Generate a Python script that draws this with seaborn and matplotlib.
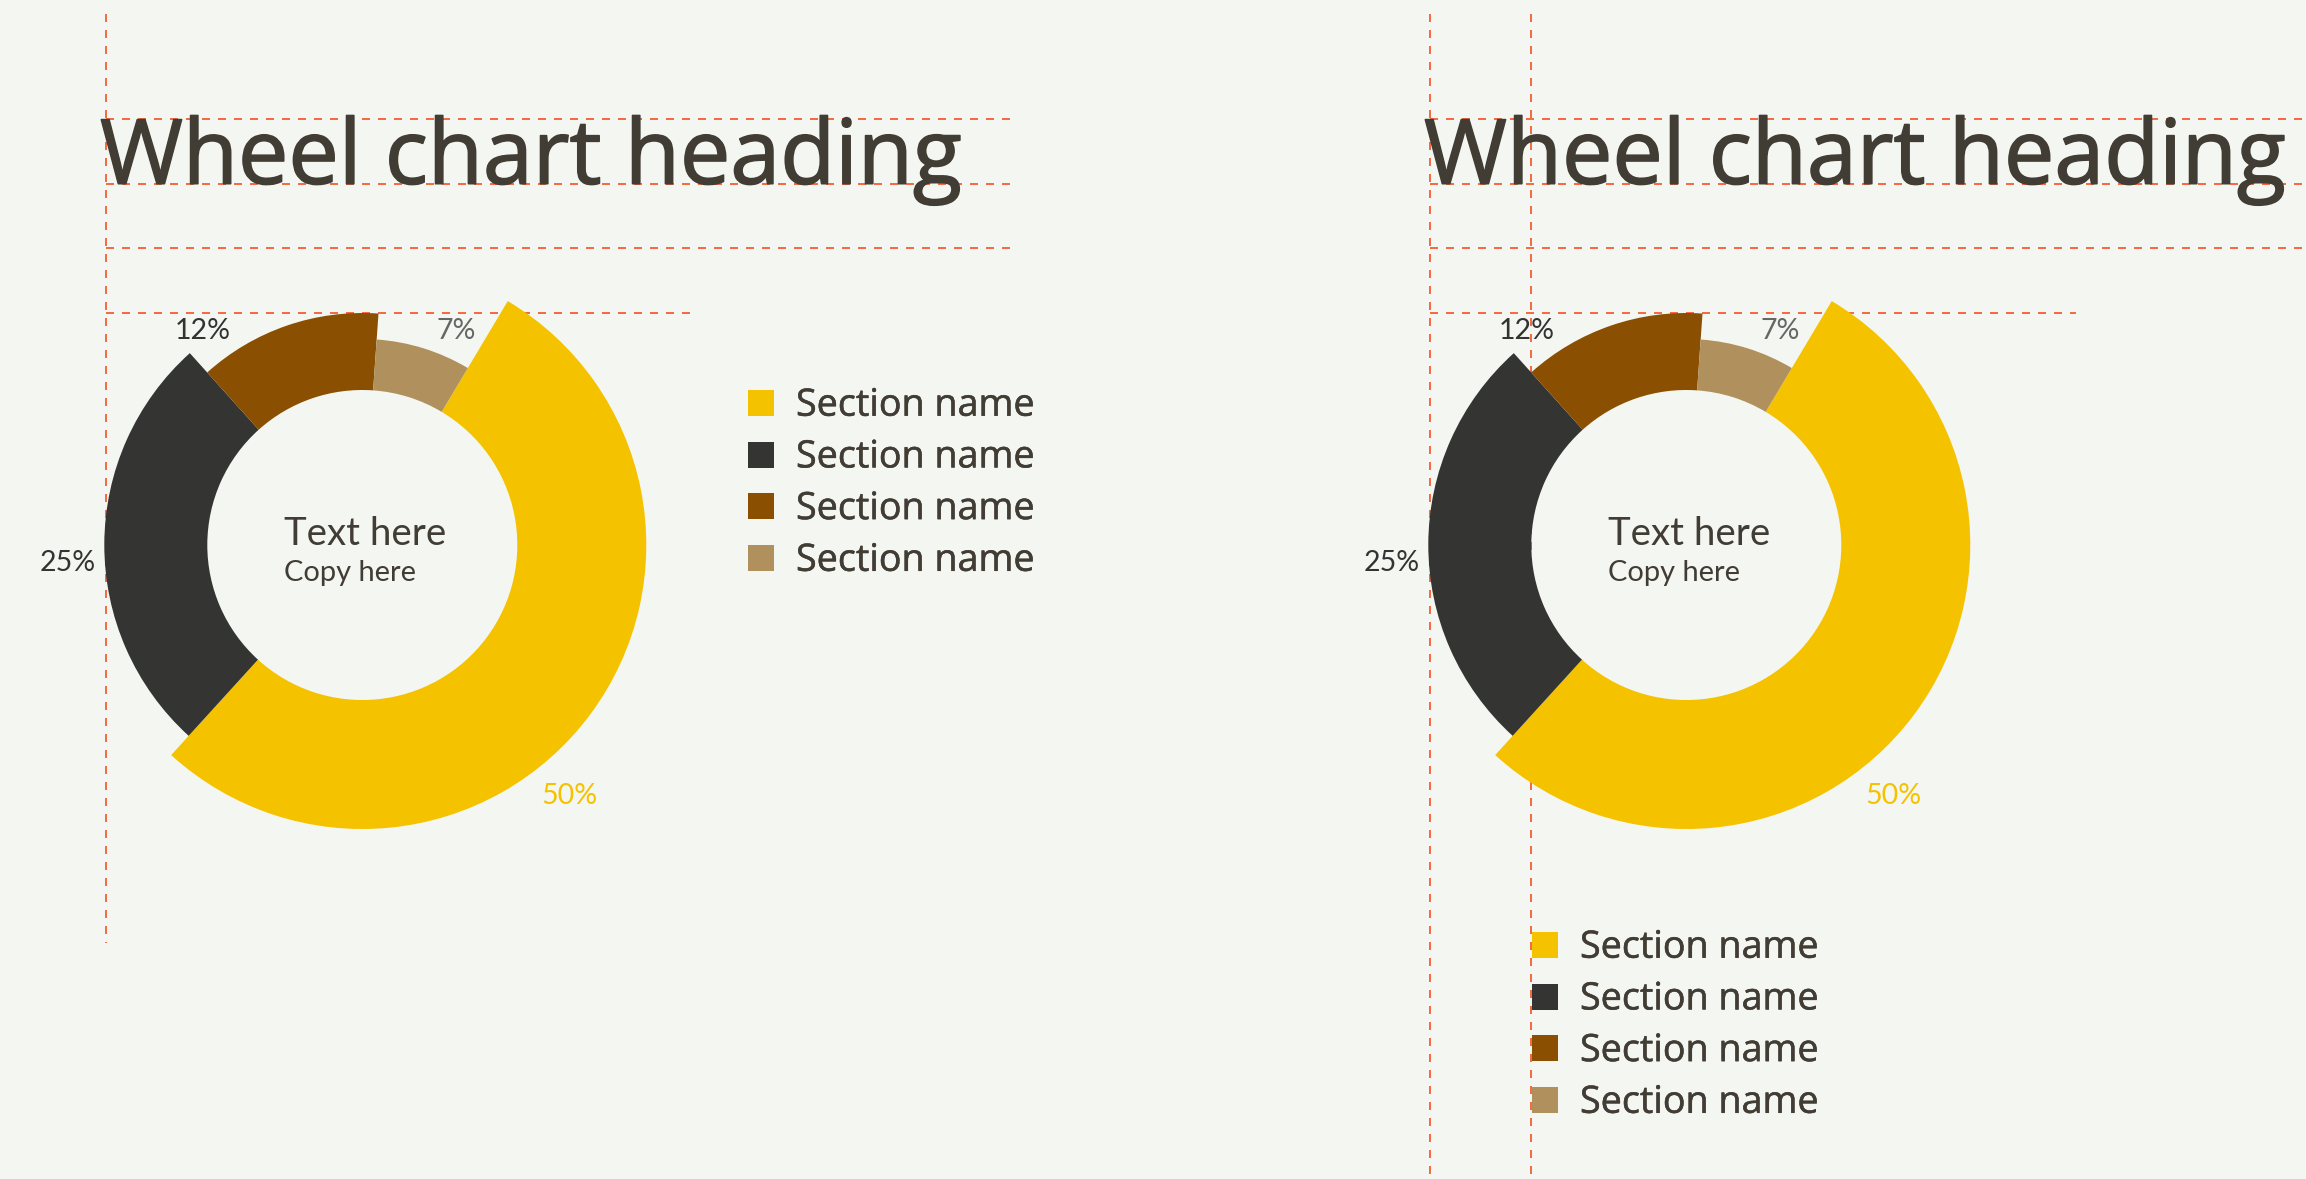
import numpy as np
import matplotlib
matplotlib.use("Agg")
import matplotlib.pyplot as plt
import matplotlib.patheffects as pe
from matplotlib.patches import Rectangle
import seaborn as sns

# ---------------- data ----------------
section_names = ["Section name", "Section name", "Section name", "Section name"]
section_values = [50, 25, 12, 7]
value_labels = [f"{v}%" for v in section_values]
heading_text = "Wheel chart heading"
center_title = "Text here"
center_copy = "Copy here"

# ---------------- style ----------------
W, H = 2306, 1179
BG = "#F4F6F1"
INK = "#413C34"
GUIDE = "#F2653B"
section_colors = ["#F5C200", "#343432", "#8A4F00", "#B0905C"]
label_colors = ["#F5C200", "#333333", "#333333", "#666666"]
outer_radii = [284, 258, 232, 206]   # px, largest section gets the widest ring
inner_radius = 155                   # px
top_seam = np.deg2rad(4.0)           # where the last section begins, clockwise from 12 o'clock
# label anchor offsets from the wheel centre (px)
label_offsets = [(206.7, 249.0), (-295.0, 16.0), (-159.6, -216.0), (93.7, -216.0)]

HEAD_FONT = ["Open Sans", "DejaVu Sans"]
BODY_FONT = ["Lato", "DejaVu Sans"]

sns.set_theme(style="white", rc={
    "figure.facecolor": BG,
    "axes.facecolor": BG,
    "savefig.facecolor": BG,
    "lines.scale_dashes": False,
})
plt.rcParams["font.family"] = BODY_FONT


def pt(px):
    """pixel size -> points at 100 dpi"""
    return px * 0.72


def heavier(px):
    """slightly embolden text with an outline of the same colour"""
    return [pe.withStroke(linewidth=pt(px), foreground=INK)]


fig = plt.figure(figsize=(W / 100, H / 100), dpi=100)
canvas = fig.add_axes([0, 0, 1, 1])
canvas.set_xlim(0, W)
canvas.set_ylim(H, 0)
canvas.axis("off")


def guide(x0, y0, x1, y1):
    canvas.plot([x0, x1], [y0, y1], color=GUIDE, lw=pt(1.9),
                dashes=(pt(8), pt(8)), zorder=1, solid_capstyle="butt",
                dash_capstyle="butt")


def draw_wheel(cx, cy):
    R = max(outer_radii) + 90
    ax = fig.add_axes([(cx - R) / W, 1 - (cy + R) / H, 2 * R / W, 2 * R / H],
                      projection="polar")
    ax.set_theta_zero_location("N")
    ax.set_theta_direction(-1)
    ax.set_ylim(0, R)
    ax.axis("off")
    ax.patch.set_alpha(0)

    vals = np.array(section_values, dtype=float)
    spans = vals / vals.sum() * 2 * np.pi
    # the last section sits just after twelve o'clock, the first follows it
    first = top_seam + spans[-1]
    starts = first + np.concatenate([[0.0], np.cumsum(spans[:-1])])
    ax.bar(starts, np.array(outer_radii) - inner_radius, width=spans,
           bottom=inner_radius, align="edge", color=section_colors,
           linewidth=0, zorder=3)

    for (ox, oy), lab, col in zip(label_offsets, value_labels, label_colors):
        canvas.text(cx + ox, cy + oy + 10, lab, ha="center", va="baseline",
                    fontsize=pt(28.5), color=col, zorder=5)

    canvas.text(cx - 78, cy - 0.2, center_title, ha="left", va="baseline",
                fontsize=pt(38.4), color=INK, zorder=5)
    canvas.text(cx - 78, cy + 36.2, center_copy, ha="left", va="baseline",
                fontsize=pt(29), color=INK, zorder=5)


def draw_legend(x, top):
    pitch = 51.7
    for k, (name, col) in enumerate(zip(section_names, section_colors)):
        y = top + k * pitch
        canvas.add_patch(Rectangle((x, y), 26, 26, facecolor=col,
                                   edgecolor="none", zorder=2))
        canvas.text(x + 48, y + 25.7, name, ha="left", va="baseline",
                    fontsize=pt(37.7), color=INK, zorder=5, family=HEAD_FONT,
                    path_effects=heavier(0.5))


def draw_panel(dx, legend_x, legend_top, guide_bottom, right_end, short_end,
               extra_vertical=None):
    # layout guides
    guide(106 + dx, 14, 106 + dx, guide_bottom)
    if extra_vertical is not None:
        guide(extra_vertical, 14, extra_vertical, guide_bottom)
    for gy in (119, 183.7, 248.3):
        guide(106 + dx, gy, right_end, gy)
    guide(106 + dx, 312.7, short_end, 312.7)

    canvas.text(100 + dx, 183.7, heading_text, ha="left", va="baseline",
                fontsize=pt(89.8), color=INK, zorder=5, family=HEAD_FONT,
                path_effects=heavier(1.6))
    draw_wheel(362.3 + dx, 545)
    draw_legend(legend_x, legend_top)


draw_panel(0, 748, 390, 943, 1014, 698)
draw_panel(1324, 1532, 932, H, W, 2076, extra_vertical=1531)

fig.savefig("out.png", dpi=100, facecolor=BG)
